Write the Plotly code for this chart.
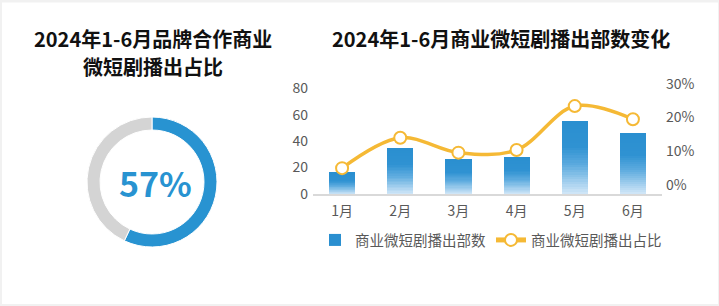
import plotly.graph_objects as go

# ---- data ----
months = ["1月", "2月", "3月", "4月", "5月", "6月"]
counts = [16, 35, 26, 28, 55, 46]
shares = [5.0, 14.0, 9.6, 10.4, 23.4, 19.5]
donut_labels = ["品牌合作", "其他"]
donut_values = [57, 43]
left_ticks = [0, 20, 40, 60, 80]
right_ticks = [0, 10, 20, 30]
right_ticktext = ["0%", "10%", "20%", "30%"]

W, H = 719, 306
FONT = "Noto Sans CJK SC"
BLUE = "#2893d1"
GOLD = "#f5b935"
GREY_TXT = "#595959"


def px_x(p):
    return p / W


def px_y(p):
    return (H - p) / H


def lerp_color(stops, t):
    for (t0, c0), (t1, c1) in zip(stops[:-1], stops[1:]):
        if t <= t1:
            f = (t - t0) / (t1 - t0) if t1 > t0 else 0
            a = [int(c0[i:i + 2], 16) for i in (1, 3, 5)]
            b = [int(c1[i:i + 2], 16) for i in (1, 3, 5)]
            return "rgb(%d,%d,%d)" % tuple(round(a[k] + (b[k] - a[k]) * f) for k in range(3))
    return stops[-1][1]


grad = [(0.0, "#d3e8f8"), (0.4, "#5dabdf"), (0.65, "#2f92d2"), (1.0, "#2a8fd0")]

fig = go.Figure()

# gradient bars as stacked slices of each bar
N = 30
for i in range(N):
    t = (i + 0.5) / N
    fig.add_trace(go.Bar(
        x=months, y=[v / N for v in counts],
        marker=dict(color=lerp_color(grad, t), line=dict(width=0)),
        width=0.45,
        name="商业微短剧播出部数",
        showlegend=(i == N - 1),
        legendrank=1,
        hoverinfo="skip",
        xaxis="x", yaxis="y",
    ))

fig.add_trace(go.Scatter(
    x=months, y=shares, mode="lines+markers",
    line=dict(color=GOLD, width=3.5, shape="spline", smoothing=1.0),
    marker=dict(size=12, color="white", line=dict(color=GOLD, width=2)),
    name="商业微短剧播出占比",
    legendrank=2,
    hoverinfo="skip",
    xaxis="x", yaxis="y2",
))

fig.add_trace(go.Pie(
    labels=donut_labels, values=donut_values, hole=0.8, sort=False,
    direction="clockwise", rotation=0,
    marker=dict(colors=[BLUE, "#d4d4d4"], line=dict(color="white", width=1)),
    textinfo="none", hoverinfo="skip", showlegend=False,
    domain=dict(x=[px_x(87), px_x(217)], y=[px_y(247), px_y(117)]),
))

plot_l, plot_r, plot_t, plot_b = 313, 662, 83, 194

fig.update_layout(
    width=W, height=H,
    margin=dict(l=0, r=0, t=0, b=0, pad=0, autoexpand=False),
    paper_bgcolor="#f1f1f1",
    plot_bgcolor="rgba(0,0,0,0)",
    barmode="stack",
    font=dict(family=FONT, size=14, color=GREY_TXT),
    xaxis=dict(
        domain=[px_x(plot_l), px_x(plot_r)],
        anchor="y", automargin=False,
        showline=True, linecolor="#d9d9d9", linewidth=1.5,
        showgrid=False, ticks="", zeroline=False,
        ticklabelstandoff=3,
        tickfont=dict(size=14, color=GREY_TXT, family=FONT),
        fixedrange=True,
    ),
    yaxis=dict(
        domain=[px_y(plot_b), px_y(plot_t)],
        anchor="x", automargin=False,
        range=[0, 84],
        tickvals=left_ticks,
        ticklabelstandoff=4,
        showgrid=False, zeroline=False, showline=False, ticks="",
        tickfont=dict(size=14, color=GREY_TXT, family=FONT),
        fixedrange=True,
    ),
    yaxis2=dict(
        overlaying="y", side="right", anchor="x", automargin=False,
        range=[-2.66, 30.24],
        tickvals=right_ticks, ticktext=right_ticktext,
        ticklabelstandoff=3,
        showgrid=False, zeroline=False, showline=False, ticks="",
        tickfont=dict(size=14, color=GREY_TXT, family=FONT),
        fixedrange=True,
    ),
    legend=dict(
        orientation="h", x=px_x(491), xanchor="center",
        y=px_y(240), yanchor="middle",
        font=dict(size=14.5, color=GREY_TXT, family=FONT),
        bgcolor="rgba(0,0,0,0)",
        traceorder="normal", itemsizing="constant",
        itemwidth=30,
    ),
    shapes=[dict(
        type="rect", xref="paper", yref="paper", layer="below",
        x0=px_x(2), x1=px_x(718), y0=px_y(304), y1=px_y(2.5),
        fillcolor="white", line=dict(width=0),
    )],
    annotations=[
        dict(text="<b>2024年1-6月品牌合作商业</b>", x=px_x(153), y=px_y(38),
             xref="paper", yref="paper", showarrow=False,
             xanchor="center", yanchor="middle",
             font=dict(size=20, color="#111111", family=FONT)),
        dict(text="<b>微短剧播出占比</b>", x=px_x(153), y=px_y(66),
             xref="paper", yref="paper", showarrow=False,
             xanchor="center", yanchor="middle",
             font=dict(size=20, color="#111111", family=FONT)),
        dict(text="<b>2024年1-6月商业微短剧播出部数变化</b>", x=px_x(501), y=px_y(38),
             xref="paper", yref="paper", showarrow=False,
             xanchor="center", yanchor="middle",
             font=dict(size=20, color="#111111", family=FONT)),
        dict(text="<b>57%</b>", x=px_x(155), y=px_y(182),
             xref="paper", yref="paper", showarrow=False,
             xanchor="center", yanchor="middle",
             font=dict(size=34, color=BLUE, family=FONT)),
    ],
)

fig.write_html("out.html")
